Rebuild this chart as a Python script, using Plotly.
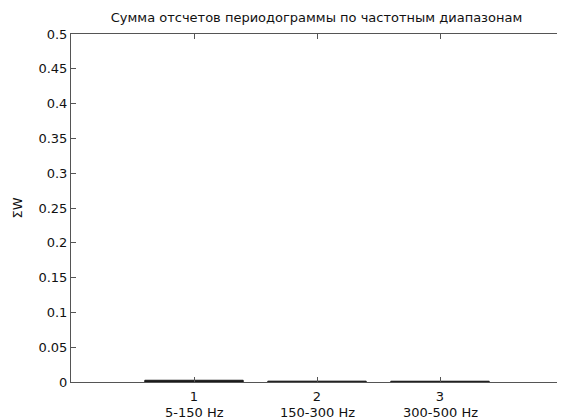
import plotly.graph_objects as go

categories = [1, 2, 3]
band_labels = ["5-150 Hz", "150-300 Hz", "300-500 Hz"]
sum_w = [0.0025, 0.0012, 0.0011]
y_ticks = [0, 0.05, 0.1, 0.15, 0.2, 0.25, 0.3, 0.35, 0.4, 0.45, 0.5]

fig = go.Figure()
fig.add_trace(go.Bar(
    x=categories, y=sum_w, width=0.8,
    marker=dict(color="#1a1a1a", line=dict(color="#1a1a1a", width=1)),
))

font = "DejaVu Sans, Liberation Sans, Arial, sans-serif"
fig.update_layout(
    width=565, height=419,
    margin=dict(l=61, r=9, t=26, b=45),
    paper_bgcolor="white", plot_bgcolor="white",
    showlegend=False,
    font=dict(family=font, size=13, color="#111"),
    title=dict(text="Сумма отсчетов периодограммы по частотным диапазонам",
               x=(61 + 556) / 2 / 565, xref="container", xanchor="center",
               y=1 - 9 / 419, yref="container", yanchor="middle",
               font=dict(size=13, family=font, color="#111")),
    xaxis=dict(range=[0, 4], tickvals=categories,
               ticktext=[str(c) for c in categories],
               ticks="inside", ticklen=5, tickcolor="#555",
               showline=True, linecolor="#555", linewidth=1, mirror="ticks",
               showgrid=False, zeroline=False, fixedrange=True,
               ticklabelstandoff=2,
               tickfont=dict(size=13)),
    yaxis=dict(range=[0, 0.5], tickvals=y_ticks,
               ticktext=[f"{v:g}" for v in y_ticks],
               ticks="inside", ticklen=5, tickcolor="#555",
               showline=True, linecolor="#555", linewidth=1, mirror="ticks",
               showgrid=False, zeroline=False,
               title=dict(text="ΣW", standoff=12, font=dict(size=13)),
               tickfont=dict(size=13)),
)
for c, b in zip(categories, band_labels):
    fig.add_annotation(x=c, xref="x", y=0, yref="paper", yshift=-30,
                       text=b, showarrow=False, xanchor="center", yanchor="middle",
                       font=dict(size=13, family=font, color="#111"))
fig.write_html("out.html")
